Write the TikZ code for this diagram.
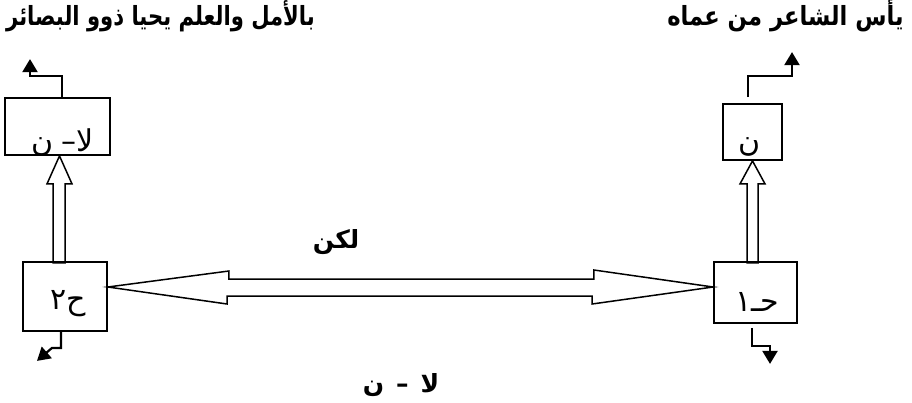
\documentclass[tikz,border=0pt]{standalone}
\usepackage{fontspec}
\newfontfamily\arabicfont[Script=Arabic]{DejaVu Sans}
\TeXXeTstate=1
\usetikzlibrary{arrows.meta,calc}

\begin{document}
\begin{tikzpicture}[
  x=1pt,y=-1pt,
  box/.style={draw,line width=1.8pt,inner sep=0pt},
  boxtext/.style={anchor=base,inner sep=0pt,font=\arabicfont\fontsize{30}{34}\selectfont},
  title/.style={inner sep=0pt,font=\arabicfont\bfseries\fontsize{22}{26}\selectfont},
  word/.style={inner sep=0pt,font=\arabicfont\bfseries\fontsize{25}{29}\selectfont},
  hollow/.style={draw,line width=1.5pt,line join=miter},
  elbow/.style={line width=2.2pt,-{Triangle[length=13pt,width=15pt]}}
]
\useasboundingbox (0,0) rectangle (912,402);

% titles
\node[title] (hope) at (160.5,16) {\scalebox{0.96}[1.2]{\beginR بالأمل والعلم يحيا ذوو البصائر\endR}};
\node[title] (despair) at (785.5,16) {\scalebox{1.03}[1.2]{\beginR يأس الشاعر من عماه\endR}};

% boxes
\node[box,minimum width=105pt,minimum height=57pt] (tl) at (57.5,126.5) {};
\node[box,minimum width=59pt,minimum height=56pt] (tr) at (752.5,132) {};
\node[box,minimum width=84pt,minimum height=69pt] (bl) at (65,296.5) {};
\node[box,minimum width=83pt,minimum height=61pt] (br) at (755.5,292.5) {};

\node[boxtext] (tl text) at (63,151) {\beginR لا–\hspace{8pt}ن\endR};
\node[boxtext] (tr text) at (750,151) {\beginR ن\endR};
\node[boxtext] (bl text) at (68,309) {\beginR ح٢\endR};
\node[boxtext] (br text) at (757,311) {\beginR حـ١\endR};

% hollow arrows
\coordinate (hl) at ($(bl.east)+(0,-9.5)$);
\coordinate (hr) at ($(br.west)+(0,-5.5)$);
\draw[hollow] (hl) -- ++(121,-16) -- ++(0,8) -- ++(365,0) -- ++(0,-9) -- (hr)
  -- ++(-121,17) -- ++(0,-8) -- ++(-365,0) -- ++(0,8) -- cycle;
\draw[hollow] ($(tl.south)+(2,0)$) -- ++(12.5,28) -- ++(-7,0) -- ++(0,79)
  -- ++(-12,0) -- ++(0,-79) -- ++(-6,0) -- cycle;
\draw[hollow] (tr.south) -- ++(12.5,23) -- ++(-7,0) -- ++(0,79)
  -- ++(-11,0) -- ++(0,-79) -- ++(-7,0) -- cycle;

% elbow arrows
\draw[elbow] ($(tl.north)+(4.5,0)$) -- ++(0,-21) -- ++(-32,0) -- ++(0,-17);
\draw[elbow] ($(tr.north)+(-4.5,-6)$) -- ++(0,-21) -- ++(44,0) -- ++(0,-24);
\draw[elbow] ($(bl.south)+(-4,0)$) -- ++(0,16) -- ++(-9,0) -- ++(-15,13);
\draw[elbow] ($(br.south)+(-3.5,4)$) -- ++(0,18) -- ++(18,0) -- ++(0,18);

% labels
\node[word] (but) at (336,242) {\beginR لكن\endR};
\node[word] (notn) at (401,385) {\beginR لا\hspace{12pt}–\hspace{12pt}ن\endR};
\end{tikzpicture}
\end{document}
